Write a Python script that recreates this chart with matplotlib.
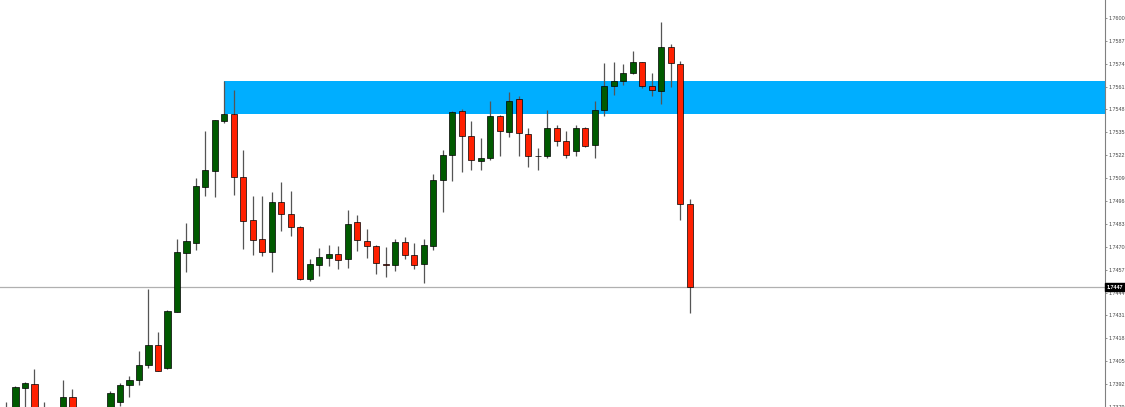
import numpy as np
import matplotlib
matplotlib.use("Agg")
import matplotlib.pyplot as plt

# -----------------------------
# OHLC data
# -----------------------------
opens = [1.73767, 1.73750, 1.73896, 1.73919, 1.73750, 1.73767, 1.73750, 1.73848, 1.73750, 1.73693,
         1.73722, 1.73756, 1.73820, 1.73915, 1.73943, 1.74030, 1.74145, 1.74011, 1.74329, 1.74667,
         1.74719, 1.75041, 1.75133, 1.75416, 1.75454, 1.75099, 1.74851, 1.74742, 1.74672, 1.74953,
         1.74884, 1.74812, 1.74519, 1.74595, 1.74638, 1.74657, 1.74632, 1.74840, 1.74731, 1.74702,
         1.74603, 1.74596, 1.74727, 1.74651, 1.74600, 1.74704, 1.75078, 1.75224, 1.75473, 1.75331,
         1.75186, 1.75205, 1.75441, 1.75350, 1.75539, 1.75343, 1.75214, 1.75214, 1.75373, 1.75303,
         1.75242, 1.75373, 1.75276, 1.75479, 1.75611, 1.75643, 1.75690, 1.75747, 1.75615, 1.75586,
         1.75837, 1.75739, 1.74946]
highs = [1.73818, 1.73911, 1.73930, 1.74005, 1.73818, 1.73784, 1.73943, 1.73892, 1.73779, 1.73767,
         1.73779, 1.73880, 1.73924, 1.73964, 1.74109, 1.74459, 1.74217, 1.74339, 1.74746, 1.74837,
         1.75092, 1.75360, 1.75422, 1.75643, 1.75592, 1.75252, 1.74987, 1.74991, 1.75012, 1.75069,
         1.75016, 1.74816, 1.74628, 1.74695, 1.74712, 1.74704, 1.74908, 1.74878, 1.74799, 1.74708,
         1.74698, 1.74742, 1.74755, 1.74719, 1.74742, 1.75114, 1.75248, 1.75473, 1.75483, 1.75412,
         1.75318, 1.75531, 1.75450, 1.75582, 1.75558, 1.75375, 1.75262, 1.75479, 1.75394, 1.75356,
         1.75394, 1.75380, 1.75526, 1.75743, 1.75747, 1.75739, 1.75813, 1.75752, 1.75686, 1.75976,
         1.75851, 1.75758, 1.74973]
lows = [1.73693, 1.73722, 1.73779, 1.73733, 1.73710, 1.73693, 1.73722, 1.73710, 1.73665, 1.73653,
        1.73676, 1.73722, 1.73795, 1.73844, 1.73916, 1.74009, 1.73994, 1.74008, 1.74328, 1.74557,
        1.74680, 1.74987, 1.74984, 1.75403, 1.74997, 1.74689, 1.74651, 1.74647, 1.74559, 1.74789,
        1.74761, 1.74511, 1.74505, 1.74534, 1.74591, 1.74572, 1.74581, 1.74676, 1.74638, 1.74544,
        1.74531, 1.74562, 1.74629, 1.74572, 1.74497, 1.74684, 1.74897, 1.75072, 1.75126, 1.75135,
        1.75135, 1.75191, 1.75214, 1.75324, 1.75214, 1.75154, 1.75139, 1.75205, 1.75275, 1.75205,
        1.75218, 1.75266, 1.75205, 1.75445, 1.75564, 1.75620, 1.75681, 1.75602, 1.75554, 1.75511,
        1.75605, 1.74855, 1.74326]
closes = [1.73722, 1.73903, 1.73926, 1.73767, 1.73779, 1.73722, 1.73844, 1.73750, 1.73693, 1.73733,
          1.73756, 1.73867, 1.73915, 1.73943, 1.74030, 1.74145, 1.73996, 1.74333, 1.74670, 1.74733,
          1.75048, 1.75135, 1.75418, 1.75452, 1.75097, 1.74844, 1.74740, 1.74672, 1.74953, 1.74885,
          1.74813, 1.74519, 1.74600, 1.74640, 1.74657, 1.74627, 1.74831, 1.74736, 1.74704, 1.74610,
          1.74597, 1.74727, 1.74651, 1.74596, 1.74713, 1.75081, 1.75224, 1.75466, 1.75327, 1.75191,
          1.75205, 1.75441, 1.75356, 1.75531, 1.75344, 1.75213, 1.75214, 1.75375, 1.75299, 1.75224,
          1.75373, 1.75271, 1.75479, 1.75615, 1.75643, 1.75690, 1.75747, 1.75615, 1.75588, 1.75837,
          1.75743, 1.74944, 1.74470]

# resistance zone (candle index where it starts, price range)
zone_start = 23
zone_top = 1.75643
zone_bottom = 1.75455

last_price = 1.7447
price_ticks = [1.7600, 1.7587, 1.7574, 1.7561, 1.7548, 1.7535, 1.7522, 1.7509, 1.7496,
               1.7483, 1.7470, 1.7457, 1.7444, 1.7431, 1.7418, 1.7405, 1.7392, 1.7379]

UP = "#005a00"
DOWN = "#ff2000"


def main():
    o = np.array(opens)
    h = np.array(highs)
    l = np.array(lows)
    c = np.array(closes)
    x = np.arange(len(o))

    plt.rcParams["font.family"] = ["Liberation Sans", "DejaVu Sans"]

    fig = plt.figure(figsize=(11.25, 4.07), dpi=100)
    ax = fig.add_axes([0, 0, 1105 / 1125, 1])

    x_lo, x_hi = -0.63, 115.7
    ax.set_xlim(x_lo, x_hi)
    ax.set_ylim(1.73796, 1.76102)

    # blue zone
    ax.fill_between([zone_start, x_hi], zone_bottom, zone_top, color="#00aeff", lw=0, zorder=1)

    # last price line
    ax.axhline(last_price, color="#b0b0b0", lw=0.9, zorder=1.5)

    # wicks + bodies
    ax.vlines(x, l, h, color="#555555", lw=0.9, zorder=2)
    up = c >= o
    colors = np.where(up, UP, DOWN)
    ax.bar(x, np.abs(c - o), bottom=np.minimum(o, c), width=0.64,
           color=colors, edgecolor="black", linewidth=0.5, zorder=3)

    # axes styling (MT4-ish)
    for s in ["left", "top", "bottom"]:
        ax.spines[s].set_visible(False)
    ax.spines["right"].set_color("#808080")
    ax.spines["right"].set_linewidth(0.8)
    ax.set_xticks([])
    ax.yaxis.tick_right()
    ax.set_yticks(price_ticks)
    ax.set_yticklabels([f"{t:.4f}" for t in price_ticks])
    ax.tick_params(axis="y", direction="out", length=1.5, width=0.6, colors="#808080",
                   labelsize=3.9, labelcolor="#444444", pad=0.8)

    ax.annotate(f"{last_price:.4f}", xy=(1.0, last_price), xycoords=("axes fraction", "data"),
                xytext=(1.2, 0), textcoords="offset points", ha="left", va="center",
                fontsize=3.9, color="white", fontweight="bold", annotation_clip=False,
                bbox=dict(boxstyle="square,pad=0.3", fc="black", ec="black"), zorder=10)

    fig.savefig("out.png", dpi=100)


if __name__ == "__main__":
    main()
